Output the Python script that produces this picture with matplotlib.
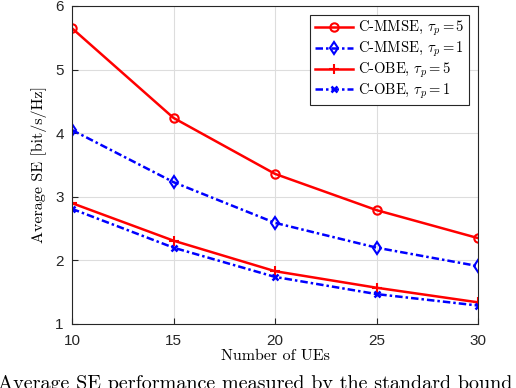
import matplotlib
matplotlib.use("Agg")
import matplotlib.pyplot as plt

# data
num_ues = [10, 15, 20, 25, 30]
mmse_tau5 = [5.65, 4.24, 3.36, 2.79, 2.35]
mmse_tau1 = [4.05, 3.23, 2.59, 2.20, 1.91]
obe_tau5 = [2.90, 2.31, 1.83, 1.57, 1.34]
obe_tau1 = [2.81, 2.20, 1.74, 1.47, 1.29]
x_ticks = [10, 15, 20, 25, 30]
y_ticks = [1, 2, 3, 4, 5, 6]

plt.rcParams['mathtext.fontset'] = 'cm'
serif = 'cmr10'
dashdot = (3, 1.2, 1, 1.2)

fig = plt.figure(figsize=(5.16, 3.88), dpi=100)
ax = fig.add_axes([0.1395, 0.165, 0.787, 0.8196])

ax.plot(num_ues, mmse_tau5, '-', color='red', lw=1.8, marker='o', ms=6,
        mfc='none', mew=1.5, label=r'C-MMSE, $\tau_p=5$')
ax.plot(num_ues, mmse_tau1, color='blue', lw=1.8, dashes=dashdot, marker='d', ms=6,
        mfc='none', mew=1.5, label=r'C-MMSE, $\tau_p=1$')
ax.plot(num_ues, obe_tau5, '-', color='red', lw=1.8, marker='+', ms=7,
        mew=1.5, label=r'C-OBE, $\tau_p=5$')
ax.plot(num_ues, obe_tau1, color='blue', lw=1.8, dashes=dashdot, marker='x', ms=4.5,
        mew=1.8, label=r'C-OBE, $\tau_p=1$')

ax.set_xlim(10, 30)
ax.set_ylim(1, 6)
ax.set_xticks(x_ticks)
ax.set_yticks(y_ticks)
ax.grid(True, color='#dddddd', lw=0.8)
ax.tick_params(direction='in', labelsize=11, colors='#262626', length=4)
ax.tick_params(axis='x', pad=7)
ax.tick_params(axis='y', pad=6)
for lbl in ax.get_xticklabels() + ax.get_yticklabels():
    lbl.set_family('Liberation Sans')
for s in ax.spines.values():
    s.set_color('#262626')
    s.set_linewidth(0.8)

ax.set_xlabel('Number of UEs', family=serif, fontsize=11.5, labelpad=1)
ax.set_ylabel('Average SE [bit/s/Hz]', family=serif, fontsize=11.5, labelpad=6)

leg = ax.legend(loc='upper right', prop={'family': serif, 'size': 10.5},
                fancybox=False, edgecolor='#262626', framealpha=1,
                handlelength=2.6, borderaxespad=0.6, labelspacing=0.1,
                handletextpad=0.4, borderpad=0.3)
leg.get_frame().set_linewidth(0.8)

# caption line of the source page, cut off at the bottom like in the reference
fig.text(-0.004, -0.012, 'Average SE performance measured by the standard bound',
         family=serif, fontsize=14.5, ha='left', va='bottom')

fig.savefig('out.png', dpi=100)
